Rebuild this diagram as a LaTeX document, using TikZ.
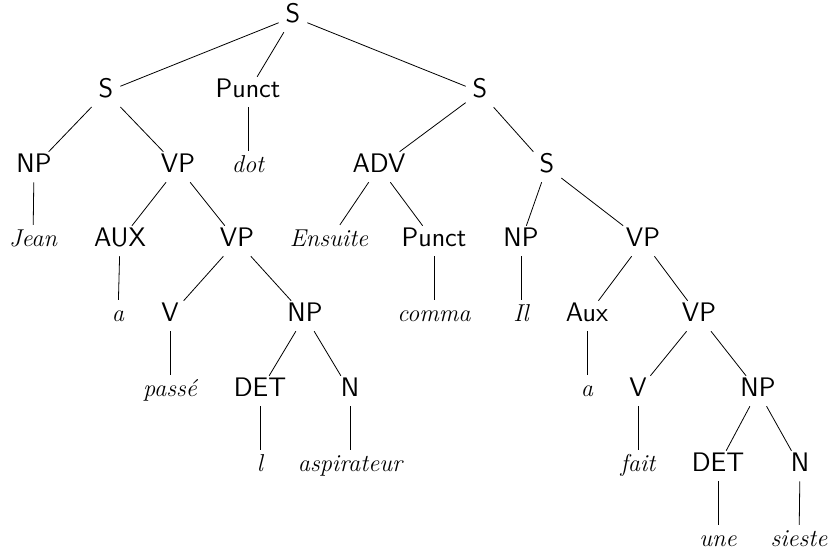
\documentclass[tikz,border=0pt]{standalone}
\usepackage{tikz}
\usetikzlibrary{positioning}
\tikzset{
  cat/.style={font=\fontsize{13.4}{15}\selectfont\sffamily, text height=1.55ex, text depth=0.35ex},
  word/.style={font=\fontsize{12.2}{15}\selectfont\itshape, text height=1.7ex, text depth=0.4ex}
}
\begin{document}
\begin{tikzpicture}[x=0.5pt,y=-0.5pt]
\useasboundingbox (0,0) rectangle (828,556);
% level 0 and 1
\node[cat] (s0) at (293,17) {S};
\node[cat] (s1) at (106,92) {S};
\node[cat] (p1) at (248,92) {Punct};
\node[cat] (s2) at (480,92) {S};
% level 2
\node[cat] (np1) at (34,167) {NP};
\node[cat] (vp1) at (178,167) {VP};
\node[word] (dot) at (248,167) {dot};
\node[cat] (adv) at (379,167) {ADV};
\node[cat] (s3) at (547,167) {S};
% level 3
\node[word] (jean) at (33,241) {Jean};
\node[cat] (aux1) at (120,241) {AUX};
\node[cat] (vp2) at (237,241) {VP};
\node[word] (ensuite) at (329,241) {Ensuite};
\node[cat] (p2) at (434,241) {Punct};
\node[cat] (np3) at (521,241) {NP};
\node[cat] (vp3) at (643,241) {VP};
% level 4
\node[word] (a1) at (118,316) {a};
\node[cat] (v1) at (170,316) {V};
\node[cat] (np2) at (305,316) {NP};
\node[word] (comma) at (434,316) {comma};
\node[word] (il) at (521,316) {Il};
\node[cat] (aux2) at (587,316) {Aux};
\node[cat] (vp4) at (699,316) {VP};
% level 5
\node[word] (passe) at (170,391) {passé};
\node[cat] (det1) at (260,391) {DET};
\node[cat] (n1) at (350,391) {N};
\node[word] (a2) at (587,391) {a};
\node[cat] (v2) at (638,391) {V};
\node[cat] (np4) at (758,391) {NP};
% level 6 and 7
\node[word] (l) at (260,466) {l};
\node[word] (aspi) at (350,466) {aspirateur};
\node[word] (fait) at (638,466) {fait};
\node[cat] (det2) at (718,466) {DET};
\node[cat] (n2) at (800,466) {N};
\node[word] (une) at (718,541) {une};
\node[word] (sieste) at (799,541) {sieste};
% branches
\foreach \a/\b in {s0/s1,s0/p1,s0/s2,s1/np1,s1/vp1,p1/dot,np1/jean,vp1/aux1,vp1/vp2,
  aux1/a1,vp2/v1,vp2/np2,v1/passe,np2/det1,np2/n1,det1/l,n1/aspi,
  s2/adv,s2/s3,adv/ensuite,adv/p2,p2/comma,s3/np3,s3/vp3,np3/il,vp3/aux2,vp3/vp4,
  aux2/a2,vp4/v2,vp4/np4,v2/fait,np4/det2,np4/n2,det2/une,n2/sieste}
  \draw (\a) -- (\b);
\end{tikzpicture}
\end{document}
